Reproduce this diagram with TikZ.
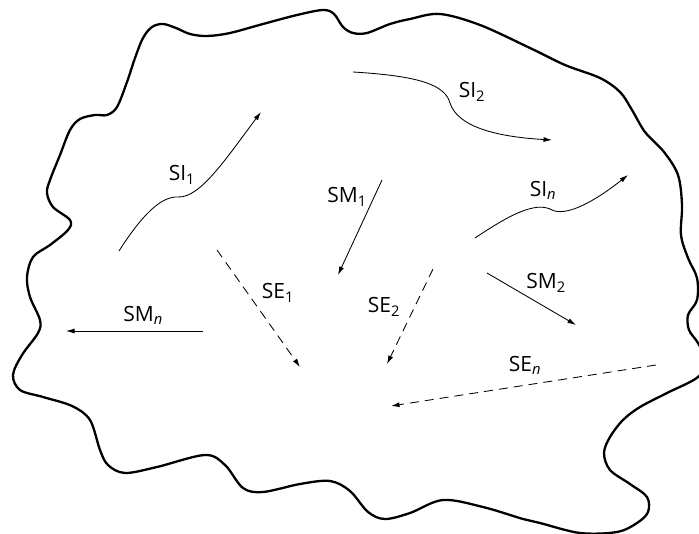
\documentclass[tikz,border=0pt]{standalone}
\usepackage{fontspec}
\setmainfont{Open Sans}
\usetikzlibrary{arrows.meta}
\tikzset{
  bound/.style={line width=2.3pt, line join=round},
  flow/.style={line width=0.85pt, -{Latex[length=8.5pt,width=5pt]}},
  dflow/.style={flow, dash pattern=on 9pt off 6pt},
  lab/.style={font=\fontsize{21}{24}\selectfont, inner sep=0pt},
}
\newcommand{\sbs}[1]{\textsubscript{#1}}
\begin{document}
\begin{tikzpicture}[x=1pt,y=-1pt]
\useasboundingbox (0,0) rectangle (699,534);
\draw[bound] plot[smooth cycle, tension=0.55] coordinates {
(135,58) (143,38) (152,27) (163,24) (176,28) (190,34) (207,36) (230,33) (263,24) (297,15) (323,10) (334,14) (343,27) (353,33) (367,33) (390,24) (410,19) (440,14) (480,25) (530,48) (565,65) (600,78) (620,92) (632,110) (645,132) (664,152) (678,175) (682,205) (681,235) (688,258) (697,278) (697,300) (688,315) (689,330) (698,343) (705,360) (698,377) (667,393) (640,407) (623,420) (610,437) (604,453) (610,470) (630,484) (647,497) (648,512) (637,523) (617,532) (580,533) (540,523) (523,519) (483,507) (443,500) (410,513) (385,519) (368,512) (350,491) (330,481) (300,484) (263,492) (243,488) (225,465) (205,455) (157,467) (125,473) (108,465) (100,450) (90,420) (72,406) (43,397) (20,390) (13,375) (22,355) (38,333) (40,320) (30,297) (27,277) (33,257) (50,245) (68,230) (70,220) (53,207) (47,193) (50,180) (60,155) (70,130) (80,119) (95,115) (107,115) (117,107) (127,82)};

% endpoints
\coordinate (si1a) at (119,251); \coordinate (si1b) at (261,112);
\coordinate (si2a) at (353,72);  \coordinate (si2b) at (552,140);
\coordinate (sina) at (475,238); \coordinate (sinb) at (628,175);
\coordinate (sm1a) at (382,180); \coordinate (sm1b) at (338,275);
\coordinate (se1a) at (217,250); \coordinate (se1b) at (300,367);
\coordinate (se2a) at (433,269); \coordinate (se2b) at (387,364);
\coordinate (smna) at (203,331); \coordinate (smnb) at (66,331);
\coordinate (sm2a) at (487,273); \coordinate (sm2b) at (576,325);
\coordinate (sena) at (656,365); \coordinate (senb) at (391,406);

\draw[flow] (si1a) .. controls (140,218) and (160,196) .. (178,197) .. controls (200,198) and (225,160) .. (si1b);
\draw[flow] (si2a) .. controls (420,76) and (445,85) .. (450,103) .. controls (458,128) and (500,137) .. (si2b);
\draw[flow] (sina) .. controls (505,218) and (535,200) .. (552,210) .. controls (565,216) and (590,205) .. (sinb);
\draw[flow] (sm1a) -- (sm1b);
\draw[flow] (smna) -- (smnb);
\draw[flow] (sm2a) -- (sm2b);
\draw[dflow] (se1a) -- (se1b);
\draw[dflow] (se2a) -- (se2b);
\draw[dflow] (sena) -- (senb);

\node[lab] (lsi1) at (182,175) {SI\sbs{1}};
\node[lab] (lsi2) at (472,92) {SI\sbs{2}};
\node[lab] (lsin) at (543,190) {SI\sbs{\itshape n}};
\node[lab] (lsm1) at (347,197) {SM\sbs{1}};
\node[lab] (lse1) at (278,293) {SE\sbs{1}};
\node[lab] (lse2) at (384,307) {SE\sbs{2}};
\node[lab] (lsmn) at (143,315) {SM\sbs{\itshape n}};
\node[lab] (lsm2) at (546,283) {SM\sbs{2}};
\node[lab] (lsen) at (525,365) {SE\sbs{\itshape n}};
\end{tikzpicture}
\end{document}
